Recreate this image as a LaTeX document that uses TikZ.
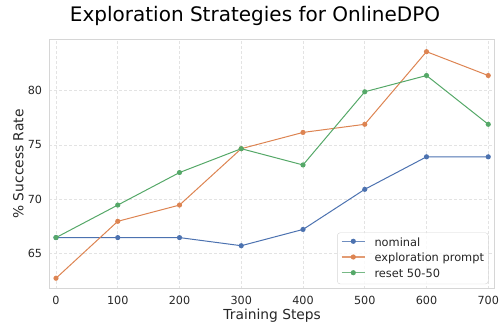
\documentclass[tikz,border=0pt]{standalone}
\usepackage{fontspec}
\setmainfont{DejaVu Sans}
\usepackage{xcolor}
\usetikzlibrary{positioning}

\definecolor{nomblue}{HTML}{4C72B0}
\definecolor{exporange}{HTML}{DD8452}
\definecolor{resgreen}{HTML}{55A868}
\definecolor{gridgray}{HTML}{E3E3E3}
\definecolor{spinegray}{HTML}{D6D6D6}
\definecolor{textgray}{HTML}{262626}

\begin{document}
\begin{tikzpicture}[x=1pt, y=1pt,
    grid line/.style={gridgray, dash pattern=on 3pt off 2pt, line width=0.6pt},
    tick label/.style={font=\fontsize{11.2}{13}\selectfont, text=textgray, inner sep=0pt},
    axis label/.style={font=\fontsize{13.8}{16}\selectfont, text=textgray, inner sep=0pt},
    series/.style={#1, line width=1pt, line join=round},
    key label/.style={font=\fontsize{11.4}{13}\selectfont, text=textgray, inner sep=0pt, anchor=base west}]
    \useasboundingbox (0,0) rectangle (500,327);

    % Title
    \node (title) [anchor=base, font=\fontsize{20}{24}\selectfont, inner sep=0pt] at (255,305.3) {Exploration Strategies for OnlineDPO};

    \begin{scope}[shift={(56,-630.9)}, x=0.6175pt, y=10.84pt]
        % Grid
        \foreach \s in {0,100,...,700}
            \draw[grid line] (\s,61.71) -- (\s,84.68);
        \foreach \v in {65,70,75,80}
            \draw[grid line] (-10.85,\v) -- (710.9,\v);

        % Frame
        \coordinate (sw) at (-10.85,61.71);
        \coordinate (ne) at (710.9,84.68);
        \draw[spinegray, line width=1pt] (sw) rectangle (ne);

        % Tick labels
        \foreach \s in {0,100,...,700}
            \node (xt\s) [tick label, anchor=north, yshift=-7.5pt] at (\s,61.71) {\s};
        \foreach \v in {65,70,75,80}
            \node (yt\v) [tick label, anchor=east, xshift=-7pt] at (-10.85,\v) {\v};

        % nominal
        \foreach \s/\v [count=\i from 0] in {0/66.45, 100/66.45, 200/66.45, 300/65.7, 400/67.2, 500/70.9, 600/73.9, 700/73.9}
            \coordinate (nom\i) at (\s,\v);
        \draw[series=nomblue] (nom0) \foreach \i in {1,...,7} {-- (nom\i)};
        \foreach \i in {0,...,7}
            \fill[nomblue] (nom\i) circle (2.6pt);

        % exploration prompt
        \foreach \s/\v [count=\i from 0] in {0/62.7, 100/67.95, 200/69.45, 300/74.65, 400/76.15, 500/76.9, 600/83.6, 700/81.4}
            \coordinate (exp\i) at (\s,\v);
        \draw[series=exporange] (exp0) \foreach \i in {1,...,7} {-- (exp\i)};
        \foreach \i in {0,...,7}
            \fill[exporange] (exp\i) circle (2.6pt);

        % reset 50-50
        \foreach \s/\v [count=\i from 0] in {0/66.45, 100/69.45, 200/72.45, 300/74.65, 400/73.15, 500/79.9, 600/81.4, 700/76.9}
            \coordinate (res\i) at (\s,\v);
        \draw[series=resgreen] (res0) \foreach \i in {1,...,7} {-- (res\i)};
        \foreach \i in {0,...,7}
            \fill[resgreen] (res\i) circle (2.6pt);
    \end{scope}

    % Axis labels
    \node (xlabel) [axis label, anchor=base] at (272.2,7.7) {Training Steps};
    \node (ylabel) [axis label, anchor=base, rotate=90] at (23.3,163) {\% Success Rate};

    % Legend
    \node (legend) [draw=spinegray, fill=white, fill opacity=0.8, draw opacity=1, rounded corners=3pt,
        minimum width=151pt, minimum height=51.3pt, inner sep=0pt] at (412.8,68.65) {};
    \foreach \col/\txt/\y in {nomblue/nominal/85.7, exporange/exploration prompt/70, resgreen/reset 50-50/54.3} {
        \coordinate (\col a) at (341.7,\y);
        \coordinate (\col b) at (365,\y);
        \draw[\col, line width=1.5pt, opacity=0.8] (\col a) -- (\col b);
        \fill[\col] (353.3,\y) circle (2.6pt);
        \node (\col key) [key label] at (374.3,\y-4.7) {\txt};
    }
\end{tikzpicture}
\end{document}
